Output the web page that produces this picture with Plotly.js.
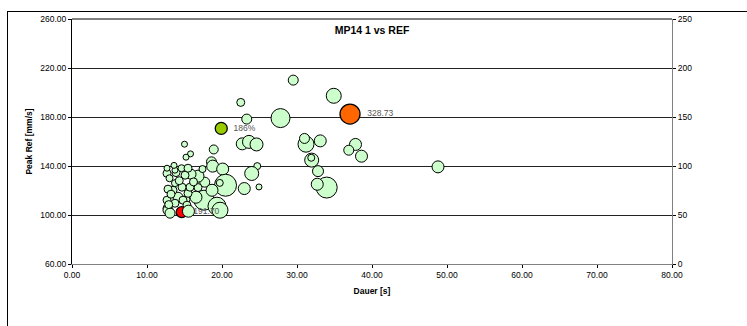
<!DOCTYPE html>
<html>
<head>
<meta charset="utf-8">
<script src="https://cdn.plot.ly/plotly-3.0.1.min.js"></script>
<style>
html,body{margin:0;padding:0;background:#fff;width:747px;height:326px;overflow:hidden;}
#frame{position:absolute;left:7px;top:11px;width:800px;height:400px;border-left:1px solid #000;border-top:1px solid #000;box-sizing:border-box;}
#chart{position:absolute;left:0;top:0;width:747px;height:326px;}
</style>
</head>
<body>
<div id="frame"></div>
<div id="chart"></div>
<script>
// Dauer [s]
var dauer = [29.5,34.9,27.8,31.2,31.0,33.1,37.8,36.9,38.6,31.96,31.9,32.8,48.8,33.96,32.7,
  22.5,23.3,22.7,23.6,24.6,15.0,18.9,15.8,15.2,24.7,18.6,18.76,20.09,23.96,24.93,22.97,
  20.47,19.7,17.6,19.33,19.73,18.67,17.7,16.8,15.87,16.8,15.2,16.53,14.13,14.8,13.73,15.33,
  15.47,15.73,14.67,13.73,13.47,12.8,12.67,12.67,12.8,13.07,13.87,12.67,12.67,13.73,14.6,15.07,15.47,
  13.2,14.3,16.2,13.0,12.9,17.4,13.6,15.53];
// Peak Ref [mm/s]
var peakRef = [210.1,197.3,179.1,157.8,162.5,160.5,157.6,152.9,148.0,144.8,146.7,135.8,139.3,122.4,125.1,
  191.9,178.3,158.1,159.7,157.6,157.8,153.5,149.9,147.2,139.9,143.4,139.9,137.5,133.9,122.9,121.6,
  124.3,126.2,112.1,107.2,103.9,120.2,126.8,131.7,133.3,122.4,112.6,114.5,114.5,112.1,109.6,108.0,
  117.7,122.7,122.7,126.0,120.2,121.1,112.1,105.5,103.9,101.5,134.6,134.0,138.2,136.6,138.2,132.5,138.2,
  117.0,128.0,127.0,130.0,108.5,137.5,140.5,103.1];
// bubble magnitude
var bubble = [10,15,19,16,10,12,12,10,12,14,7,11,12,21,12,
  8,10,12,13,13,6,9,6,6,7,10,12,12,14,6,12,
  22,7,20,18,16,12,10,12,10,8,8,12,10,8,8,8,
  8,8,8,7,8,8,8,8,10,10,8,8,6,6,7,8,8,
  8,8,8,7,8,7,6,12];

// highlighted points
var hlDauer = [37.07,19.9,14.63];
var hlPeak = [182.4,170.7,102.3];
var hlBubble = [20,12,11];
var hlLabels = ['328.73','186%','191.70'];
var hlColors = ['#FF6600','#99CC00','#FF0000'];

var xTickVals = [0,10,20,30,40,50,60,70,80];
var yTickVals = [60,100,140,180,220,260];
var y2TickVals = [0,50,100,150,200,250];

var FONT = 'Liberation Sans, Arial, sans-serif';

var labelPad = 6;
var traces = [
  {
    type:'scatter', mode:'markers', x:hlDauer, y:hlPeak,
    marker:{size:hlBubble, sizemode:'diameter', sizeref:1, color:hlColors, opacity:1,
      line:{color:'#000',width:1.3}},
    hoverinfo:'none', showlegend:false, cliponaxis:false
  },
  {
    type:'scatter', mode:'markers', x:dauer, y:peakRef,
    marker:{size:bubble, sizemode:'diameter', sizeref:1, color:'#CCFFCC', opacity:1,
      line:{color:'#000',width:1}},
    hoverinfo:'none', showlegend:false, cliponaxis:false
  },
  {
    type:'scatter', mode:'markers+text', x:hlDauer, y:hlPeak,
    text:hlLabels, textposition:'middle right',
    textfont:{family:FONT,size:8.5,color:'#555'},
    marker:{size:hlBubble.map(function(v){return v+labelPad;}), sizemode:'diameter', sizeref:1, opacity:0},
    hoverinfo:'none', showlegend:false, cliponaxis:false
  },
  {
    type:'scatter', mode:'markers', x:[], y:[], yaxis:'y2', showlegend:false, hoverinfo:'none'
  }
];

var layout = {
  width:747, height:326,
  margin:{l:72, r:75, t:19, b:62, pad:0},
  paper_bgcolor:'rgba(0,0,0,0)', plot_bgcolor:'#fff',
  font:{family:FONT, size:8.5, color:'#000'},
  showlegend:false,
  title:{text:'<b>MP14 1 vs REF</b>', font:{family:FONT,size:10.5,color:'#000'},
    x:0.5, xref:'paper', xanchor:'center', y:1-30/326, yref:'container', yanchor:'middle'},
  xaxis:{range:[0,80], tickvals:xTickVals, tickformat:'.2f', showgrid:false, zeroline:false,
    showline:true, linecolor:'#808080', linewidth:1, ticks:'outside', ticklen:3, tickcolor:'#000', tickwidth:1,
    tickfont:{family:FONT,size:8.5,color:'#000'},
    title:{text:'<b>Dauer [s]</b>', font:{family:FONT,size:8.5,color:'#000'}, standoff:8}},
  yaxis:{range:[60,260], tickvals:yTickVals, tickformat:'.2f', showgrid:true, gridcolor:'#222', gridwidth:1,
    zeroline:false, showline:true, linecolor:'#000', linewidth:1, ticks:'outside', ticklen:3, tickcolor:'#000',
    tickfont:{family:FONT,size:8.5,color:'#000'},
    title:{text:'<b>Peak Ref [mm/s]</b>', font:{family:FONT,size:8.5,color:'#000'}, standoff:6}},
  yaxis2:{range:[0,250], tickvals:y2TickVals, tickformat:'d', overlaying:'y', side:'right', showgrid:false,
    zeroline:false, showline:true, linecolor:'#808080', linewidth:1, ticks:'outside', ticklen:3, tickcolor:'#000',
    tickfont:{family:FONT,size:8.5,color:'#000'}},
  shapes:[
    {type:'line', xref:'paper', yref:'paper', x0:0, x1:1, y0:1, y1:1, line:{color:'#000',width:1}}
  ]
};

Plotly.newPlot('chart', traces, layout, {staticPlot:true, displayModeBar:false});
</script>
</body>
</html>
